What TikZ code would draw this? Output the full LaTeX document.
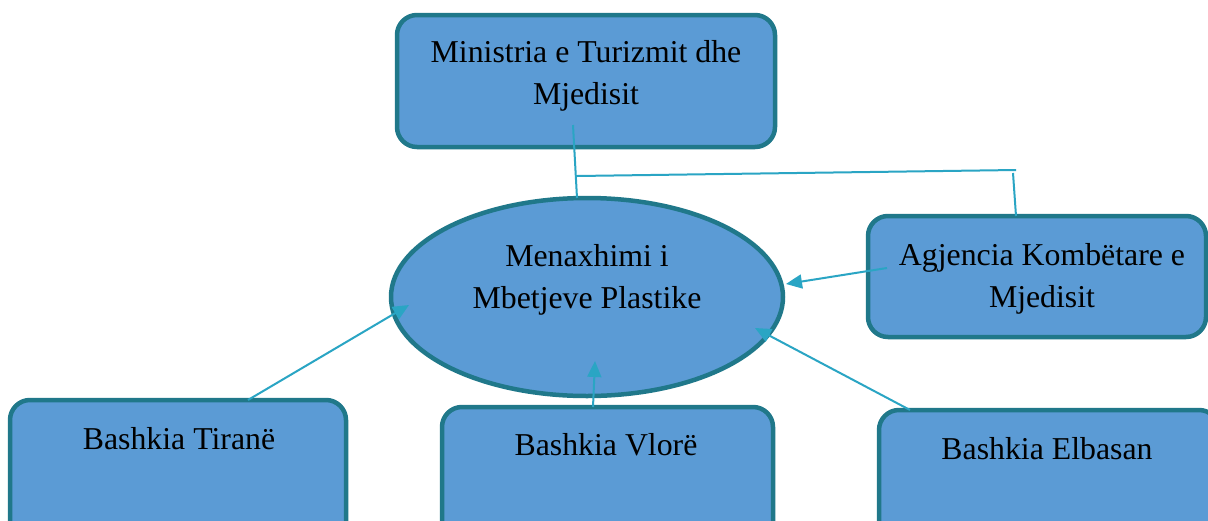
\documentclass[tikz,border=0pt]{standalone}
\usepackage{fontspec}
\setmainfont{Liberation Serif}
\usetikzlibrary{shapes.geometric,arrows.meta}
\definecolor{boxfill}{RGB}{91,155,213}
\definecolor{boxline}{RGB}{32,120,138}
\definecolor{conn}{RGB}{42,165,196}
\tikzset{
  box/.style={draw=boxline,fill=boxfill,line width=4.5pt,rounded corners=20pt,inner sep=0pt},
  txt/.style={font=\fontsize{31.8}{42}\selectfont,align=center,text=black,inner sep=0pt},
  link/.style={draw=conn,line width=2pt},
  arr/.style={link,-{Triangle[length=16pt,width=14pt]}}
}
\begin{document}
\begin{tikzpicture}[x=1pt,y=-1pt]
\clip (0,0) rectangle (1208,520);
\fill[white] (0,0) rectangle (1208,520);
% boxes
\node[box,minimum width=378pt,minimum height=132pt] (min) at (586,81) {};
\node[ellipse,draw=boxline,fill=boxfill,line width=4.5pt,minimum width=392pt,minimum height=198pt,inner sep=0pt] (ell) at (587,297) {};
\node[box,minimum width=338pt,minimum height=121pt] (ag) at (1037,276.5) {};
\node[box,minimum width=336pt,minimum height=160pt] (ti) at (178,480) {};
\node[box,minimum width=331pt,minimum height=160pt] (vl) at (607.5,487) {};
\node[box,minimum width=340pt,minimum height=160pt] (el) at (1049,490) {};
% texts
\node[txt] (tmin) at (586,76) {Ministria e Turizmit dhe\\Mjedisit};
\node[txt] (tell) at (587,280) {Menaxhimi i\\Mbetjeve Plastike};
\node[txt] (tag) at (1042,279) {Agjencia Kombëtare e\\Mjedisit};
\node[txt] (tti) at (179,439) {Bashkia Tiranë};
\node[txt] (tvl) at (606,445) {Bashkia Vlorë};
\node[txt] (tel) at (1047,449) {Bashkia Elbasan};
% connectors
\coordinate (m1) at (573,125);
\coordinate (m2) at (577,198);
\coordinate (h1) at (577,176);
\coordinate (h2) at (1016,170);
\coordinate (a1) at (1013,173);
\coordinate (a2) at (1016,216);
\draw[link] (m1) -- (m2);
\draw[link] (h1) -- (h2);
\draw[link] (a1) -- (a2);
\coordinate (ags) at (887,268);
\coordinate (age) at (786,284);
\draw[arr] (ags) -- (age);
\coordinate (els) at (910,410);
\coordinate (ele) at (755,328);
\draw[arr] (els) -- (ele);
\coordinate (vls) at (593,407);
\coordinate (vle) at (595,361);
\draw[arr] (vls) -- (vle);
\coordinate (tis) at (248,400);
\coordinate (tie) at (409,305);
\draw[arr] (tis) -- (tie);
\end{tikzpicture}
\end{document}
